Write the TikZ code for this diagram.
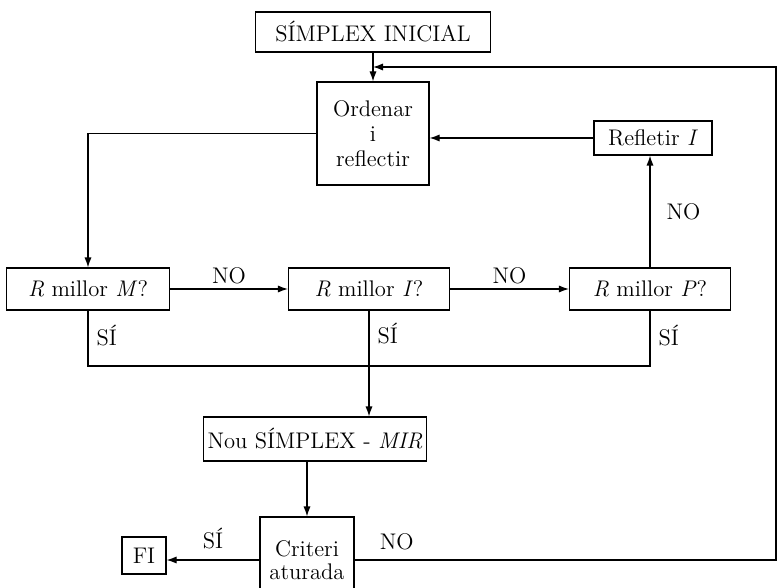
\documentclass[tikz,border=0pt]{standalone}
\usepackage{tikz}
\usetikzlibrary{arrows.meta, positioning}

\begin{document}
\begin{tikzpicture}[
    x=0.5pt, y=-0.5pt,
    every node/.style={font=\fontsize{11.3}{12.5}\selectfont},
    box/.style={draw, line width=0.6pt, inner sep=2pt, align=center},
    lbl/.style={inner sep=2pt},
    arrow/.style={-{Latex[length=5pt,width=3.6pt]}, line width=0.6pt},
    line/.style={line width=0.6pt}
    ]
    \useasboundingbox (0,0) rectangle (781,588);
    \clip (0,0) rectangle (781,588);

    % Nodes
    \node[box, minimum width=117.5pt, minimum height=20pt] (ini)  at (373,32)    {SÍMPLEX INICIAL};
    \node[box, minimum width=56pt, minimum height=51.5pt]  (ord)  at (373,133.5) {Ordenar\\ i\\ reflectir};
    \node[box, minimum width=59pt, minimum height=17pt]    (refl) at (653,138)   {Refletir \textit{I}};
    \node[box, minimum width=81.5pt, minimum height=21pt]  (rm)   at (88,289)    {\textit{R} millor \textit{M}?};
    \node[box, minimum width=80.5pt, minimum height=21pt]  (ri)   at (369,289)   {\textit{R} millor \textit{I}?};
    \node[box, minimum width=80.5pt, minimum height=21pt]  (rp)   at (650,289)   {\textit{R} millor \textit{P}?};
    \node[box, minimum width=111pt, minimum height=22pt]   (nou)  at (315,439)   {Nou SÍMPLEX - \textit{MIR}};
    \node[box, minimum width=47pt, minimum height=43pt]    (crit) at (307,560)   {Criteri\\[-1pt] aturada};
    \node[box, minimum width=22pt, minimum height=18.5pt]  (fi)   at (144,555.5) {FI};

    \coordinate (bus)  at (0,366);
    \coordinate (rtop) at (776,67);

    % Arrows
    \draw[arrow] (ini.south) -- (ord.north);
    \draw[arrow] (crit.east) -- (crit.east -| rtop) -- (rtop) -- (rtop -| ini.south);
    \draw[arrow] (ord.west) -| (rm.north);
    \draw[arrow] (refl.west) -- (refl.west -| ord.east);
    \draw[arrow] (rm) -- node[lbl, above] {NO} (ri);
    \draw[arrow] (ri) -- node[lbl, above] {NO} (rp);
    \draw[arrow] (rp.north) -- node[lbl, right=6pt] {NO} (rp.north |- refl.south);
    \draw[line] (rm.south) -- node[lbl, pos=0.45, right=2pt] {SÍ} (rm.south |- bus) -- (rp.south |- bus) -- node[lbl, pos=0.55, right=2pt] {SÍ} (rp.south);
    \draw[arrow] (ri.south) -- node[lbl, pos=0.22, right=2pt] {SÍ} (ri.south |- nou.north);
    \draw[arrow] (crit.north |- nou.south) -- (crit.north);
    \draw[arrow] (crit.west) -- node[lbl, above=3pt] {SÍ} (crit.west -| fi.east);
    \path (crit.east) -- node[lbl, above=3pt, pos=0.1] {NO} (crit.east -| rtop);
\end{tikzpicture}
\end{document}
